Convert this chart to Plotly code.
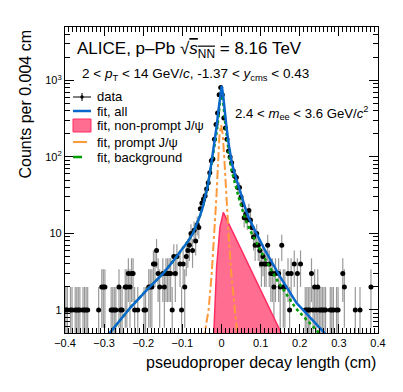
import numpy as np
import plotly.graph_objects as go

# binned data: counts per 0.004 cm, from -0.4 to 0.4 cm
bin_width = 0.004
x_lo = -0.4
counts = [
    1, 1, 0, 1, 1, 0, 1, 1, 1, 1,
    0, 1, 1, 1, 1, 0, 0, 0, 0, 0,
    0, 1, 0, 2, 2, 2, 0, 0, 0, 1,
    1, 1, 1, 0, 2, 1, 1, 0, 2, 2,
    3, 2, 3, 3, 1, 0, 1, 0, 0, 0,
    1, 1, 0, 2, 2, 2, 4, 4, 6, 3,
    2, 0, 3, 2, 3, 3, 3, 3, 1, 5,
    3, 5, 0, 4, 1, 4, 2, 5, 6, 7,
    10, 6, 11, 8, 13, 12, 21, 25, 28, 31,
    38, 46, 62, 89, 94, 170, 265, 376, 650, 810,
    650, 323, 240, 170, 120, 100, 84, 66, 56, 54,
    40, 40, 30, 24, 16, 18, 15, 20, 15, 12,
    9, 7, 10, 7, 6, 4, 5, 4, 4, 7,
    4, 3, 3, 2, 3, 0, 3, 2, 7, 2,
    2, 0, 3, 1, 3, 0, 4, 0, 3, 0,
    4, 0, 0, 1, 1, 1, 1, 3, 1, 2,
    1, 2, 1, 1, 1, 1, 1, 0, 0, 1,
    1, 1, 0, 1, 1, 0, 0, 3, 2, 0,
    0, 0, 0, 0, 0, 1, 0, 0, 1, 0,
    0, 0, 0, 0, 0, 2, 0, 0, 0, 0,
]

# fit curves
fit_all_x = [-0.29, -0.234, -0.19, -0.149, -0.12, -0.10, -0.085, -0.073, -0.064, -0.055,
             -0.048, -0.042, -0.034, -0.025, -0.018, -0.0125, -0.008, -0.004, -0.001, 0.0005,
             0.004, 0.008, 0.013, 0.019, 0.026, 0.033, 0.039, 0.047, 0.056, 0.064,
             0.073, 0.090, 0.107, 0.150, 0.192, 0.270]
fit_all_y = [0.47, 1.06, 1.85, 3.0, 4.6, 6.3, 8.0, 10, 12.7, 17,
             22, 29, 45, 89, 150, 250, 400, 620, 820, 850,
             650, 400, 240, 140, 86, 62, 49, 35, 25, 19,
             14.7, 9.6, 6.6, 2.7, 1.23, 0.46]

fit_bkg_x = [-0.29, -0.234, -0.19, -0.149, -0.12, -0.10, -0.085, -0.073, -0.064, -0.055,
             -0.048, -0.042, -0.034, -0.025, -0.018, -0.0125, -0.008, -0.004, 0.0005,
             0.004, 0.008, 0.013, 0.019, 0.026, 0.033, 0.039, 0.047, 0.056, 0.064,
             0.073, 0.090, 0.107, 0.142, 0.190, 0.256]
fit_bkg_y = [0.47, 1.06, 1.85, 3.0, 4.6, 6.3, 8.0, 10, 12.7, 17,
             22, 29, 44, 84, 135, 210, 320, 520, 700,
             540, 330, 195, 110, 66, 47, 37, 26, 18.5, 14,
             11, 7.5, 5.1, 2.45, 1.05, 0.46]

nonprompt_x = [-0.020, -0.0125, -0.004, 0.0046, 0.157, 0.157, -0.020]
nonprompt_y = [0.45, 3.6, 12, 18.9, 0.45, 0.1, 0.1]

prompt_x = [-0.046, -0.033, -0.025, -0.018, -0.013, -0.008, -0.005, -0.001,
            0.003, 0.007, 0.012, 0.018, 0.025, 0.033, 0.042]
prompt_y = [0.4, 1, 3, 10, 30, 100, 200, 260,
            200, 100, 30, 10, 3, 1, 0.4]

counts = np.array(counts, dtype=float)
centers = x_lo + bin_width * (np.arange(len(counts)) + 0.5)
keep = counts > 0
xd = centers[keep]
yd = counts[keep]
err = np.sqrt(yd)
err_dn = np.minimum(err, yd - 0.05)

FONT = "Liberation Sans, Arial, sans-serif"
BLUE = "#0a68cc"
ORANGE = "#ff9a3c"
GREEN = "#009e00"
PINK_FILL = "#ff6e90"
PINK_LINE = "#ff2d62"

# page size, body offset of the html page, plot frame in page pixels
W, H, OFF = 403, 392, 8
L, R, T, B = 65, 378, 27, 333


def px(p):
    return (p - L) / (R - L)


def py(p):
    return (B - p) / (B - T)


fig = go.Figure()

fig.add_trace(go.Scatter(
    x=xd, y=yd, mode="markers",
    marker=dict(color="black", size=5),
    error_y=dict(type="data", array=err, arrayminus=err_dn, symmetric=False,
                 color="rgba(0,0,0,0.4)", thickness=1.2, width=0),
    error_x=dict(type="constant", value=bin_width / 2, color="rgba(0,0,0,0.4)",
                 thickness=1, width=0),
    showlegend=False,
))

fig.add_trace(go.Scatter(
    x=nonprompt_x, y=nonprompt_y, mode="lines", fill="toself",
    fillcolor=PINK_FILL, line=dict(color=PINK_LINE, width=1.5), showlegend=False,
))

fig.add_trace(go.Scatter(
    x=prompt_x, y=prompt_y, mode="lines",
    line=dict(color=ORANGE, width=2, dash="dashdot"), showlegend=False,
))

fig.add_trace(go.Scatter(
    x=fit_bkg_x, y=fit_bkg_y, mode="lines",
    line=dict(color=GREEN, width=2.5, dash="dot"), showlegend=False,
))

fig.add_trace(go.Scatter(
    x=fit_all_x, y=fit_all_y, mode="lines",
    line=dict(color=BLUE, width=2.5), showlegend=False,
))

# texts
ann = [
    dict(x=px(75), y=py(50),
         text="ALICE, p\u2013Pb \u221a<span style='text-decoration:overline'><i>s</i><sub>NN</sub></span> = 8.16 TeV",
         font=dict(size=17)),
    dict(x=px(80), y=py(74),
         text="2 &lt; <i>p</i><sub>T</sub> &lt; 14 GeV/<i>c</i>, -1.37 &lt; <i>y</i><sub>cms</sub> &lt; 0.43",
         font=dict(size=13.5)),
    dict(x=px(233), y=py(113),
         text="2.4 &lt; <i>m</i><sub>ee</sub> &lt; 3.6 GeV/<i>c</i><sup>2</sup>",
         font=dict(size=13.2)),
]

leg_items = ["data", "fit, all", "fit, non-prompt J/\u03c8", "fit, prompt J/\u03c8", "fit, background"]
leg_y = [97, 111, 126, 142, 157]
for t, yy in zip(leg_items, leg_y):
    ann.append(dict(x=px(95), y=py(yy), text=t, font=dict(size=13)))

for a in ann:
    a.update(xref="paper", yref="paper", xanchor="left", yanchor="middle", showarrow=False)
    a["font"].update(family=FONT, color="black")

ann.append(dict(x=px(378), y=py(362), xref="paper", yref="paper", xanchor="right", yanchor="middle",
                text="pseudoproper decay length (cm)", showarrow=False,
                font=dict(family=FONT, size=16, color="black")))
ann.append(dict(x=px(25), y=py(28), xref="paper", yref="paper", xanchor="center", yanchor="top",
                text="Counts per 0.004 cm", textangle=-90, showarrow=False,
                font=dict(family=FONT, size=16, color="black")))

# hand-made legend symbols
shapes = [
    dict(type="line", x0=px(73), x1=px(91), y0=py(97), y1=py(97), line=dict(color="black", width=1)),
    dict(type="line", x0=px(82), x1=px(82), y0=py(93), y1=py(101), line=dict(color="black", width=1)),
    dict(type="circle", x0=px(80.3), x1=px(83.7), y0=py(95.3), y1=py(98.7),
         fillcolor="black", line=dict(color="black", width=0)),
    dict(type="line", x0=px(73), x1=px(91), y0=py(111), y1=py(111), line=dict(color=BLUE, width=2.5)),
    dict(type="rect", x0=px(73), x1=px(91), y0=py(119), y1=py(132),
         fillcolor=PINK_FILL, line=dict(color=PINK_LINE, width=1)),
    dict(type="line", x0=px(73), x1=px(87), y0=py(142), y1=py(142), line=dict(color=ORANGE, width=2)),
    dict(type="line", x0=px(73), x1=px(91), y0=py(157), y1=py(157),
         line=dict(color=GREEN, width=2.5, dash="dash")),
]
for s in shapes:
    s.update(xref="paper", yref="paper")

decades = [0.1, 1, 10, 100, 1000]
minor_vals = [d * k for d in decades for k in range(2, 10)]

fig.update_layout(
    width=W - OFF, height=H - OFF,
    margin=dict(l=L - OFF, r=W - R, t=T - OFF, b=H - B),
    paper_bgcolor="white", plot_bgcolor="white",
    font=dict(family=FONT, color="black", size=11),
    annotations=ann, shapes=shapes,
    showlegend=False,
)

fig.update_xaxes(
    range=[-0.4, 0.4],
    tickvals=[-0.4, -0.3, -0.2, -0.1, 0, 0.1, 0.2, 0.3, 0.4],
    ticktext=["\u22120.4", "\u22120.3", "\u22120.2", "\u22120.1", "0", "0.1", "0.2", "0.3", "0.4"],
    ticks="inside", ticklen=9, tickcolor="black", tickwidth=1,
    minor=dict(ticks="inside", ticklen=5, dtick=0.01, tick0=0, tickcolor="black", showgrid=False),
    showline=True, linecolor="black", linewidth=1.2, mirror="allticks",
    showgrid=False, zeroline=False, tickfont=dict(size=11),
)

fig.update_yaxes(
    type="log", range=[np.log10(0.5), np.log10(5000)],
    tickvals=[1, 10, 100, 1000],
    ticktext=["1", "10", "10<sup>2</sup>", "10<sup>3</sup>"],
    ticks="inside", ticklen=9, tickcolor="black", tickwidth=1,
    minor=dict(ticks="inside", ticklen=5, tickvals=minor_vals, tickcolor="black", showgrid=False),
    showline=True, linecolor="black", linewidth=1.2, mirror="allticks",
    showgrid=False, zeroline=False, tickfont=dict(size=11),
)

fig.write_html("out.html")
